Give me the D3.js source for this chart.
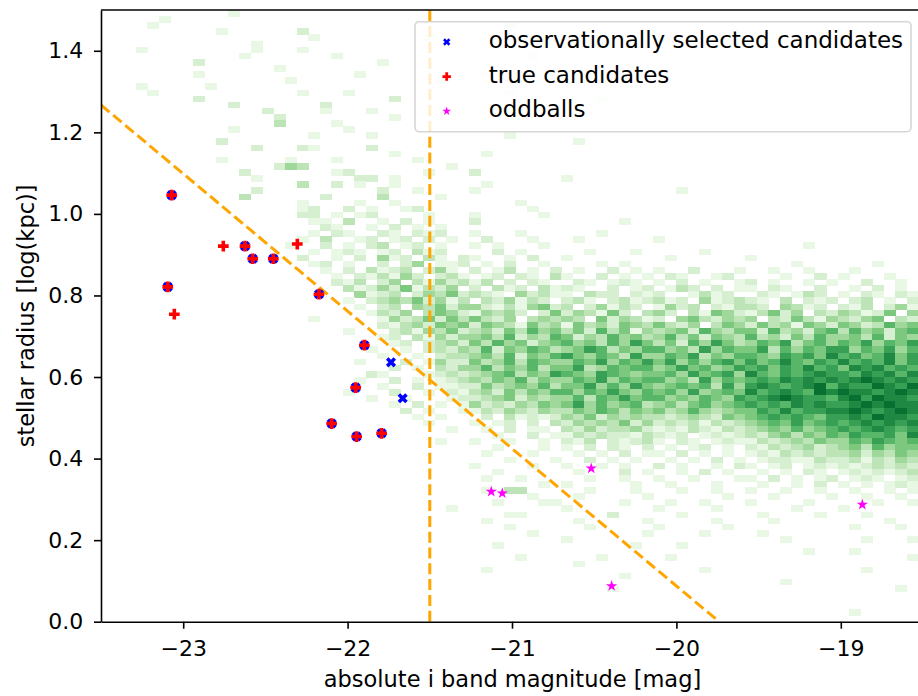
<!DOCTYPE html>
<html>
<head>
<meta charset="utf-8">
<script src="https://cdn.jsdelivr.net/npm/d3@7"></script>
<style>
body { margin: 0; background: #ffffff; }
svg { display: block; font-family: "DejaVu Sans", sans-serif; }
</style>
</head>
<body>
<div class="figure"></div>
<script>
// 2d histogram, one string per y bin from the top (1.5) down to 0
// 72 x bins of 0.07 mag from -23.5, digit = shade level, 0 = empty bin
var histRows = [
    "00000000 00010000 00000000 00000000 00000000 00000000 00000000 00000000 00000000",
    "00000100 00000000 00000000 00000000 00000000 00000000 00000000 00000000 00000000",
    "00001000 00000000 00000000 00000000 00010000 00000000 00000000 00000000 00000000",
    "00000000 00100000 02000000 00000000 00000000 00000000 00000000 00000000 00000000",
    "00000000 00000000 00100000 00001000 00000000 00000000 00000000 00000000 00000000",
    "00000000 00000100 00000000 00000000 00000000 00100000 00000000 00000000 00000000",
    "00010000 00000100 01000000 00000000 00000000 00000000 00000000 00000000 00000000",
    "00000000 00001000 00001000 00000000 00000100 00000000 00000000 00000000 00000000",
    "00000000 20000000 00000000 10000000 00000000 00000000 00000000 00000000 00000000",
    "00000000 00000001 00000000 00000000 00000000 00000000 00000000 00000000 00000000",
    "00000000 10000000 00000010 00000000 01000000 00000000 00000000 00000000 00000000",
    "00000000 00000000 10000000 00000100 00000000 00000000 00000000 00000000 00000000",
    "00010000 01000000 00000000 00000000 00000000 00000000 00000000 00000000 00000000",
    "00001000 00000000 01000100 00000000 00010000 00000000 00000000 00000000 00000000",
    "00000000 20000000 00000000 02000000 00000000 00010000 00000000 00000000 00000000",
    "00000000 00020000 00020000 00000000 00000000 00000000 00000000 00000000 00000000",
    "00000000 00000020 00010001 00000000 00100000 00000000 00000000 00000000 00000000",
    "00000000 00000002 00000000 01000000 00000000 00000000 00000000 00000000 00000000",
    "00000000 00000003 00001000 00000000 00000000 00000000 00000000 00000000 00000000",
    "00000000 00010000 00000100 00000000 00000000 00000000 00000000 00000000 00000000",
    "00000000 00000000 00100001 00000000 00010000 00000000 00000000 00000000 00000000",
    "00000000 00200000 00000000 00000000 00000000 01000000 00000000 00000000 00000000",
    "00000000 00000200 02100002 00000000 00000000 00000000 00000000 00000000 00000000",
    "00000000 00000000 00000000 01000000 01000000 00000000 00000000 00000000 00000000",
    "00000000 00100000 10001000 00010000 00000000 00000000 00000000 00000000 00000000",
    "00000000 00000002 43000000 00000010 00000000 00000000 00000000 00000000 00000000",
    "00000000 00002000 00001200 00001000 20000000 00000000 00000000 00000000 00000000",
    "00000000 00000100 00000022 01000000 00000000 10000000 00000000 00000000 00000000",
    "00000000 00000000 03002010 01000000 01000000 00000000 00000000 00000000 00000000",
    "00000000 00000200 00000000 20010000 10000000 00000000 00100000 00000000 00000000",
    "00000000 00003000 00020000 30000100 00000000 00000000 00000000 00000000 00000000",
    "00000000 00000000 01000010 01000000 00001000 00000000 00000000 00000000 00000000",
    "00000000 00000000 01200201 00120000 00000100 00000000 00000000 00000000 00000000",
    "00000000 00000000 02201012 00001000 10000010 00000000 00000000 00000000 00000000",
    "00000000 00000000 00110300 10201000 20000000 00000100 00000000 00000000 00000000",
    "00000000 00000000 00021001 02010100 00000000 00000000 00000000 00000000 00000000",
    "00000000 00000000 00102100 21021200 10001000 00010000 00000000 00000000 00000000",
    "00000000 00000000 01030012 01202010 02000100 01000000 10000000 00000000 00000000",
    "00000000 00000000 10020102 30120100 10100010 00000000 00000000 00000100 00000000",
    "00000000 00000000 00101210 12031200 00201000 00100010 00001000 00000000 00000000",
    "00000000 00000000 02001020 41203102 10010200 10000000 01000000 10000000 00000000",
    "00000000 00000000 00120100 20240112 01020010 00010100 00000000 00001000 00010000",
    "00000000 00000000 00010203 12302410 20130102 01002010 10020001 00100100 01000000",
    "00000000 00000000 00001021 31420231 01202103 10020101 02100120 00010020 10001000",
    "00000000 00000000 00002130 24031423 13020210 02101210 10201001 20100101 00200100",
    "00000000 00000000 00000312 42513240 20312031 21002012 01320201 10210020 01020101",
    "00000000 00000000 00000041 23024352 32104231 10322021 20013120 02101320 10210210",
    "00000000 00000000 00000102 34352413 03241320 23102312 31204123 21030212 02301021",
    "00000000 00000000 00000010 23043524 42131452 30241320 14230213 32043120 21302413",
    "00000000 00000000 00000001 32403542 14342025 24315203 42031542 13524032 43125042",
    "00000000 00000000 00100000 14235253 53240343 43052431 20453243 40325314 32450324",
    "00000000 00000000 00000000 21342545 25431534 15342543 53240354 25341542 54236451",
    "00000000 00000000 00000100 02314352 34253645 35263514 34526435 52634256 36452563",
    "00000000 00000000 00000000 12031424 45362436 52436453 46352543 63425364 45362546",
    "00000000 00000000 00000000 01202342 53645245 64536475 35264753 46573564 65746576",
    "00000000 00000000 00000001 00102324 36254653 45763546 64537465 57364657 74657467",
    "00000000 00000000 00000000 10010233 45362546 75465374 46573546 65476758 67568576",
    "00000000 00000000 00000010 00201422 53463654 46574657 57464675 75686576 86768578",
    "00000000 00000000 00000000 02010324 46354635 57346566 45756457 67576867 58786768",
    "00000000 00000000 00000002 10001232 34563547 65476545 56475674 86576787 76878687",
    "00000000 00000000 00000010 02010123 43546354 46574656 64537465 67687878 78987879",
    "00000000 00000000 00000000 10020112 25345463 55746475 45656374 78767896 87798798",
    "00000000 00000000 00000100 02001021 34253546 64657546 56474565 86787698 98878989",
    "00000000 00000000 00000001 00100012 23452434 46365756 64546547 67898776 89798878",
    "00000000 00000000 00000000 01020101 42324354 57464563 45356456 76768787 78989887",
    "00000000 00000000 00000000 00201001 13243243 35465354 53464345 57686778 89878987",
    "00000000 00000000 00000000 00010100 02031212 43524343 32343254 56767657 78798878",
    "00000000 00000000 00000000 00001000 10120203 24343524 23231323 45657567 67878787",
    "00000000 00000000 00000000 00000010 01020110 32423342 12132132 34546456 76787678",
    "00000000 00000000 00000000 00000000 00100201 13232213 21201212 32453546 57667586",
    "00000000 00000000 00000000 00000100 10010010 21302123 10210121 13234354 46576567",
    "00000000 00000000 00000000 00000000 00100010 10202102 01012010 21323423 45364556",
    "00000000 00000000 00000000 00000000 01000100 01010201 10201010 12132323 34243545",
    "00000000 00000000 00000000 00000000 00010001 00201010 01010201 01221132 23132434",
    "00000000 00000000 00000000 00000000 10000100 10010100 20100102 10120121 21232323",
    "00000000 00000000 00000000 00000000 00100000 01000201 00102010 01010210 12121232",
    "00000000 00000000 00000000 00000000 01001000 00100100 10010001 10201012 01210121",
    "00000000 00000000 00000000 00000000 00000010 10000010 01000100 01001020 10101210",
    "00000000 00000000 00000000 00000000 01033000 00100010 00100100 10010010 01001010",
    "00000000 00000000 00000000 00000000 00000100 01000001 00000010 00100001 00100101",
    "00000000 00000000 00000000 00000000 00100011 00000100 01001000 10000100 00010010",
    "00000000 00000000 00000000 00000010 00000000 10000000 10000100 00001000 10000001",
    "00000000 00000000 00000000 00000000 00011000 00002000 00100000 01000010 00100000",
    "00000000 00000000 00000000 00000000 01000000 01000001 00000100 00100000 00001000",
    "00000000 00000000 00000000 00000000 00010000 00100000 10000010 00000000 01000100",
    "00000000 00000000 00000000 00000000 00000100 00000001 00001000 01000000 00000000",
    "00000000 00000000 00000000 00000000 00000000 10000000 00000000 00010000 00100010",
    "00000000 00000000 00000000 00000000 00100000 00000010 00100000 00000000 00000000",
    "00000000 00000000 00000000 00000000 00000000 00000000 00000000 00000100 01000000",
    "00000000 00000000 00000000 00000000 00001000 00010000 01000000 00000000 00000010",
    "00000000 00000000 00000000 00000000 00000000 01000000 00000000 00000000 00000000",
    "00000000 00000000 00000000 00000000 01000000 00000000 00001000 00000000 00100000",
    "00000000 00000000 00000000 00000000 00000000 00000100 00000000 00000000 00000000",
    "00000000 00000000 00000000 00000000 00000000 00000000 00000000 00010000 00000000",
    "00000000 00000000 00000000 00000000 00000000 00001000 00000000 00000000 00000100",
    "00000000 00000000 00000000 00000000 00000000 00000000 00000000 00000000 00000000",
    "00000000 00000000 00000000 00000000 00000000 00000000 00000000 00000000 00000000",
    "00000000 00000000 00000000 00000000 00000000 00000000 00000000 00000000 00000000",
    "00000000 00000000 00000000 00000000 00000000 00000000 00000000 00000000 01000000",
    "00000000 00000000 00000000 00000000 00000000 00000000 00000000 00000000 00000000"
]

var histX0 = -23.5, histDx = 0.07,
    histY1 = 1.5, histDy = 0.015

// observationally selected candidates (blue X)
var obsX = [-23.070, -22.624, -22.577, -22.452, -23.094, -22.174, -21.898,
            -21.736, -21.951, -21.665, -22.097, -21.945, -21.793]
var obsY = [1.046, 0.921, 0.890, 0.890, 0.821, 0.803, 0.678,
            0.636, 0.574, 0.548, 0.486, 0.454, 0.462]

// true candidates (red P)
var trueX = [-23.070, -22.756, -22.624, -22.577, -22.452, -22.306, -23.094,
             -23.054, -22.174, -21.898, -21.951, -22.097, -21.945, -21.793]
var trueY = [1.046, 0.921, 0.921, 0.890, 0.890, 0.926, 0.821,
             0.754, 0.803, 0.678, 0.574, 0.486, 0.454, 0.462]

// oddballs (magenta stars)
var oddX = [-21.126, -21.059, -20.518, -20.394, -18.869]
var oddY = [0.319, 0.315, 0.376, 0.0875, 0.287]

// selection cuts
var cutLineX = [-23.5, -19.74]
var cutLineY = [1.267, 0]
var magCut = -21.5

var xTicks = [-23, -22, -21, -20, -19]
var yTicks = [0, 0.2, 0.4, 0.6, 0.8, 1.0, 1.2, 1.4]

var legendLabels = ["observationally selected candidates", "true candidates", "oddballs"]

var dim = {w: 918, h: 696}
var margin = {top: 10, left: 101}
var w = 822,
    h = 611.7

var svg = d3.select("div.figure")
    .append("svg")
    .attr("width", dim.w)
    .attr("height", dim.h)
    .append("g")
    .attr("transform", "translate(" + margin.left + "," + margin.top + ")")

var xScale = d3.scaleLinear().domain([-23.5, -18.5]).range([0, w])
var yScale = d3.scaleLinear().domain([0, 1.5]).range([h, 0])

svg.append("defs").append("clipPath")
    .attr("id", "plot-clip")
    .append("rect")
    .attr("width", w)
    .attr("height", h)

// histogram cells
var cells = []
histRows.forEach(function(row, r) {
    var s = row.replace(/ /g, "")
    for (var c = 0; c < s.length; c++) {
        var v = +s[c]
        if (v > 0) cells.push({x0: histX0 + c * histDx, y0: histY1 - (r + 1) * histDy, level: v})
    }
})

var cScale = function(level) {
    return d3.interpolateGreens(level * 0.096 - 0.005)
}

svg.append("g")
    .attr("clip-path", "url(#plot-clip)")
    .attr("shape-rendering", "crispEdges")
    .selectAll("rect")
    .data(cells)
    .enter()
    .append("rect")
    .attr("x", function(d) { return xScale(d.x0) })
    .attr("y", function(d) { return yScale(d.y0 + histDy) })
    .attr("width", function(d) { return xScale(d.x0 + histDx) - xScale(d.x0) + 0.5 })
    .attr("height", function(d) { return yScale(d.y0) - yScale(d.y0 + histDy) + 0.5 })
    .attr("fill", function(d) { return cScale(d.level) })

// cut lines
var lines = svg.append("g").attr("clip-path", "url(#plot-clip)")
lines.append("line")
    .attr("x1", xScale(magCut)).attr("y1", yScale(0))
    .attr("x2", xScale(magCut)).attr("y2", yScale(1.5))
    .attr("stroke", "orange")
    .attr("stroke-width", 3)
    .attr("stroke-dasharray", "11,4.8")
lines.append("line")
    .attr("x1", xScale(cutLineX[0])).attr("y1", yScale(cutLineY[0]))
    .attr("x2", xScale(cutLineX[1])).attr("y2", yScale(cutLineY[1]))
    .attr("stroke", "orange")
    .attr("stroke-width", 3)
    .attr("stroke-dasharray", "11,4.8")

// scatter markers
var markers = {
    obs: {x: obsX, y: obsY, type: d3.symbolCross, size: 64, rot: 45, color: "blue"},
    tru: {x: trueX, y: trueY, type: d3.symbolCross, size: 64, rot: 0, color: "red"},
    odd: {x: oddX, y: oddY, type: d3.symbolStar, size: 40, rot: 0, color: "magenta"},
}

;["obs", "tru", "odd"].forEach(function(key) {
    var m = markers[key]
    svg.append("g")
        .attr("class", "points " + key)
        .selectAll("path")
        .data(m.x.map(function(x, i) { return {x: x, y: m.y[i]} }))
        .enter()
        .append("path")
        .attr("d", d3.symbol().type(m.type).size(m.size))
        .attr("transform", function(d) {
            return "translate(" + xScale(d.x) + "," + yScale(d.y) + ") rotate(" + m.rot + ")"
        })
        .attr("fill", m.color)
})

// axes
var tickFontSize = 22,
    labelFontSize = 22.5,
    legendFontSize = 23

var xAxis = d3.axisBottom(xScale)
    .tickValues(xTicks)
    .tickFormat(d3.format("d"))
    .tickSize(7)
    .tickSizeOuter(0)
    .tickPadding(11.5)

var yAxis = d3.axisLeft(yScale)
    .tickValues(yTicks)
    .tickFormat(d3.format(".1f"))
    .tickSize(7)
    .tickSizeOuter(0)
    .tickPadding(10.7)

svg.append("g")
    .attr("class", "x axis")
    .attr("transform", "translate(0," + h + ")")
    .style("font-size", tickFontSize + "px")
    .style("font-family", "DejaVu Sans")
    .call(xAxis)

svg.append("g")
    .attr("class", "y axis")
    .style("font-size", tickFontSize + "px")
    .style("font-family", "DejaVu Sans")
    .call(yAxis)

svg.selectAll(".axis path, .axis line")
    .attr("stroke", "#000")
    .attr("stroke-width", 1.6)

svg.append("line")
    .attr("x1", 0).attr("x2", w + 10)
    .attr("y1", 0).attr("y2", 0)
    .attr("stroke", "#000")
    .attr("stroke-width", 1.6)

svg.append("text")
    .attr("transform", "translate(" + (w / 2 + 0.5) + "," + (h + 65) + ")")
    .attr("text-anchor", "middle")
    .style("font-size", labelFontSize + "px")
    .text("absolute i band magnitude [mag]")

svg.append("text")
    .attr("transform", "translate(" + (-67.5) + "," + (h / 2) + ") rotate(-90)")
    .attr("text-anchor", "middle")
    .style("font-size", labelFontSize + "px")
    .text("stellar radius [log(kpc)]")

// legend
var legendConfig = {
    x: 314, y: 11.7,
    width: 496, height: 110,
    rowSpace: 34.6,
    markerX: 31.7, textX: 73.7,
}

var legend = svg.append("g")
    .attr("class", "legend")
    .attr("transform", "translate(" + legendConfig.x + "," + legendConfig.y + ")")

legend.append("rect")
    .attr("width", legendConfig.width)
    .attr("height", legendConfig.height)
    .attr("rx", 4)
    .attr("fill", "#fff")
    .attr("fill-opacity", 0.8)
    .attr("stroke", "#cccccc")
    .attr("stroke-opacity", 0.8)
    .attr("stroke-width", 1.6)

var legendMarkers = [
    {type: d3.symbolCross, size: 34, rot: 45, color: "blue"},
    {type: d3.symbolCross, size: 40, rot: 0, color: "red"},
    {type: d3.symbolStar, size: 24, rot: 0, color: "magenta"},
]

var legendRows = legend.selectAll("g.row")
    .data(legendLabels)
    .enter()
    .append("g")
    .attr("class", "row")
    .attr("transform", function(d, i) {
        return "translate(0," + (26.3 + i * legendConfig.rowSpace) + ")"
    })

legendRows.append("path")
    .attr("d", function(d, i) {
        return d3.symbol().type(legendMarkers[i].type).size(legendMarkers[i].size)()
    })
    .attr("transform", function(d, i) {
        return "translate(" + legendConfig.markerX + ",-6) rotate(" + legendMarkers[i].rot + ")"
    })
    .attr("fill", function(d, i) { return legendMarkers[i].color })

legendRows.append("text")
    .attr("x", legendConfig.textX)
    .style("font-size", legendFontSize + "px")
    .text(function(d) { return d })
</script>
</body>
</html>
